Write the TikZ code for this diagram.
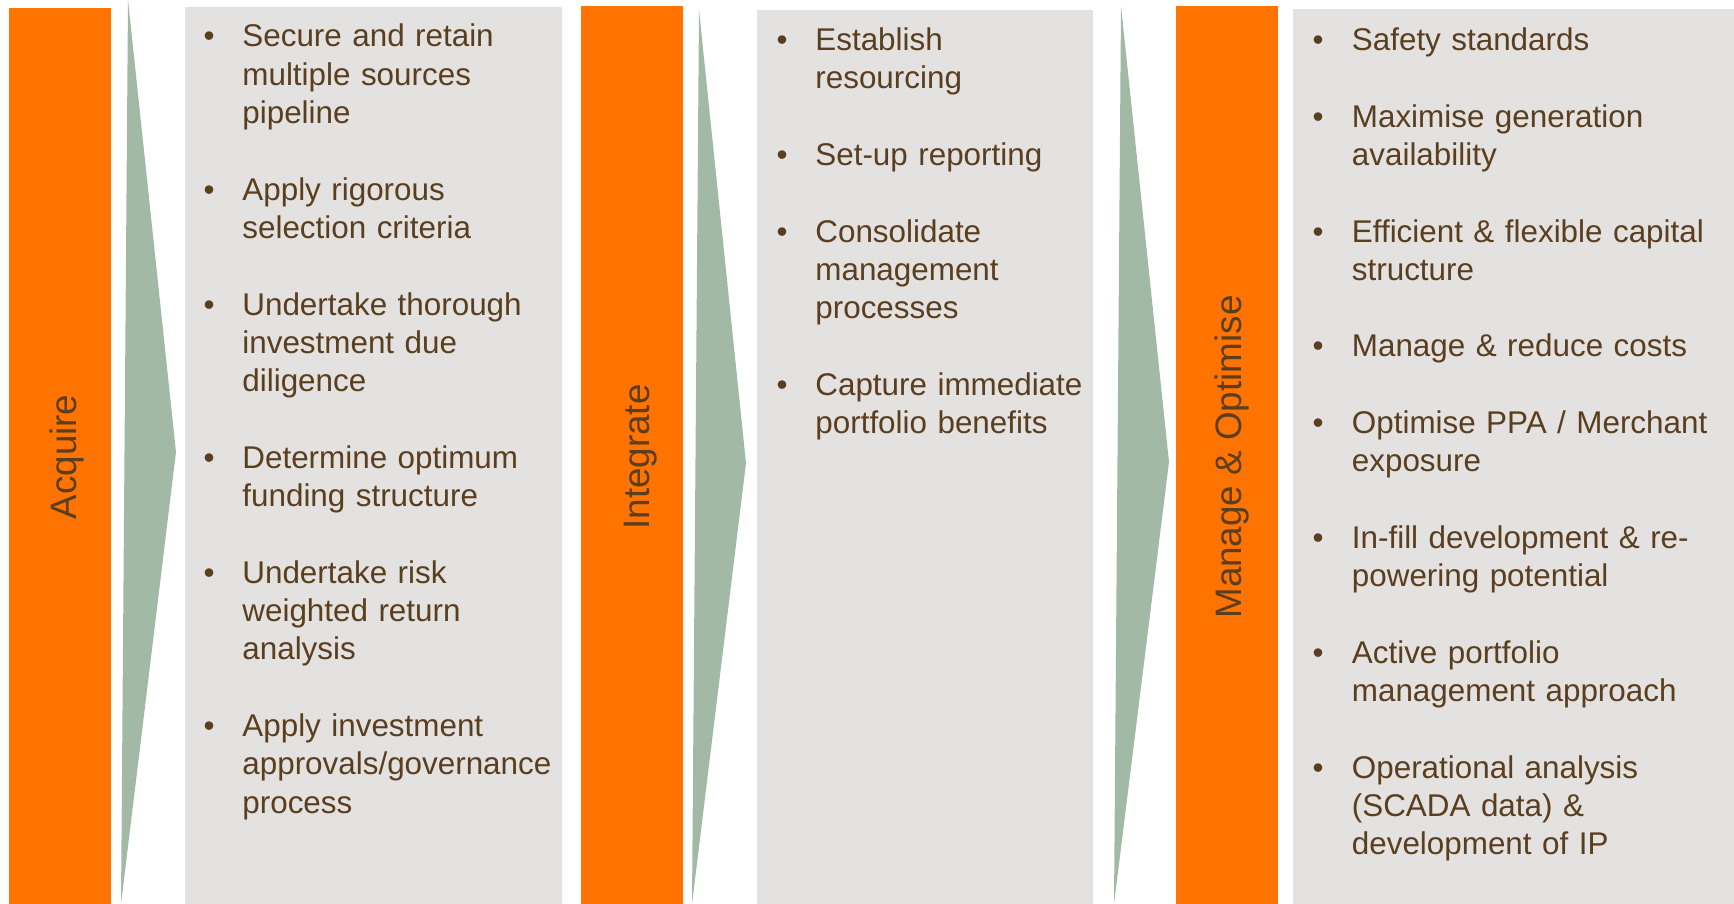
\documentclass[tikz,border=0pt]{standalone}
\usepackage{fontspec}
\setmainfont{Liberation Sans}
\definecolor{barorange}{RGB}{255,115,0}
\definecolor{arrowgreen}{RGB}{162,186,165}
\definecolor{boxgrey}{RGB}{227,226,224}
\definecolor{txtbrown}{RGB}{90,62,30}
\begin{document}
\begin{tikzpicture}[x=0.5pt,y=-0.5pt,
  itemtext/.style={anchor=base west, inner sep=0pt, text width=200pt, align=left,
    font=\fontsize{15.7}{19.15}\selectfont, text=txtbrown},
  bul/.style={anchor=base, inner sep=0pt, font=\fontsize{15.7}{19.15}\selectfont, text=txtbrown},
  lab/.style={rotate=90, anchor=base, inner sep=0pt, font=\fontsize{18.4}{22}\selectfont, text=txtbrown}]
\useasboundingbox (0,0) rectangle (1734,904);
% bars
\fill[barorange] (9,8) rectangle (111,904);
\fill[barorange] (581,6) rectangle (683,904);
\fill[barorange] (1176,6) rectangle (1278,904);
% chevrons
\fill[arrowgreen] (128,0) -- (176,452) -- (121,904) -- cycle;
\fill[arrowgreen] (699,10) -- (746,463) -- (692,904) -- cycle;
\fill[arrowgreen] (1121,6) -- (1169,462) -- (1114,904) -- cycle;
% grey boxes
\fill[boxgrey] (185,7) rectangle (562,904);
\fill[boxgrey] (757,10) rectangle (1093,904);
\fill[boxgrey] (1293,9) rectangle (1734,904);
% labels
\node[lab] (acquire) at (76,457) {Acquire};
\node[lab] (integrate) at (649,457) {Integrate};
\node[lab] (manage) at (1241,457) {Manage \& Optimise};
% column 1
\node[bul] (b11) at (209,47) {•};
\node[itemtext] (t11) at (242,47) {Secure and retain\\multiple sources\\pipeline};
\node[bul] (b12) at (209,200.2) {•};
\node[itemtext] (t12) at (242,200.2) {Apply rigorous\\selection criteria};
\node[bul] (b13) at (209,315.1) {•};
\node[itemtext] (t13) at (242,315.1) {Undertake thorough\\investment due\\diligence};
\node[bul] (b14) at (209,468.3) {•};
\node[itemtext] (t14) at (242,468.3) {Determine optimum\\funding structure};
\node[bul] (b15) at (209,583.2) {•};
\node[itemtext] (t15) at (242,583.2) {Undertake risk\\weighted return\\analysis};
\node[bul] (b16) at (209,736.4) {•};
\node[itemtext] (t16) at (242,736.4) {Apply investment\\approvals/governance\\process};
% column 2
\node[bul] (b21) at (782,50.5) {•};
\node[itemtext] (t21) at (815,50.5) {Establish\\resourcing};
\node[bul] (b22) at (782,165.4) {•};
\node[itemtext] (t22) at (815,165.4) {Set-up reporting};
\node[bul] (b23) at (782,242) {•};
\node[itemtext] (t23) at (815,242) {Consolidate\\management\\processes};
\node[bul] (b24) at (782,395.2) {•};
\node[itemtext] (t24) at (815,395.2) {Capture immediate\\portfolio benefits};
% column 3
\node[bul] (b31) at (1318,50.5) {•};
\node[itemtext] (t31) at (1351.5,50.5) {Safety standards};
\node[bul] (b32) at (1318,127.1) {•};
\node[itemtext] (t32) at (1351.5,127.1) {Maximise generation\\availability};
\node[bul] (b33) at (1318,242) {•};
\node[itemtext] (t33) at (1351.5,242) {Efficient \& flexible capital\\structure};
\node[bul] (b34) at (1318,356.9) {•};
\node[itemtext] (t34) at (1351.5,356.9) {Manage \& reduce costs};
\node[bul] (b35) at (1318,433.5) {•};
\node[itemtext] (t35) at (1351.5,433.5) {Optimise PPA / Merchant\\exposure};
\node[bul] (b36) at (1318,548.4) {•};
\node[itemtext] (t36) at (1351.5,548.4) {In-fill development \& re-\\powering potential};
\node[bul] (b37) at (1318,663.3) {•};
\node[itemtext] (t37) at (1351.5,663.3) {Active portfolio\\management approach};
\node[bul] (b38) at (1318,778.2) {•};
\node[itemtext] (t38) at (1351.5,778.2) {Operational analysis\\(SCADA data) \&\\development of IP};
\end{tikzpicture}
\end{document}
